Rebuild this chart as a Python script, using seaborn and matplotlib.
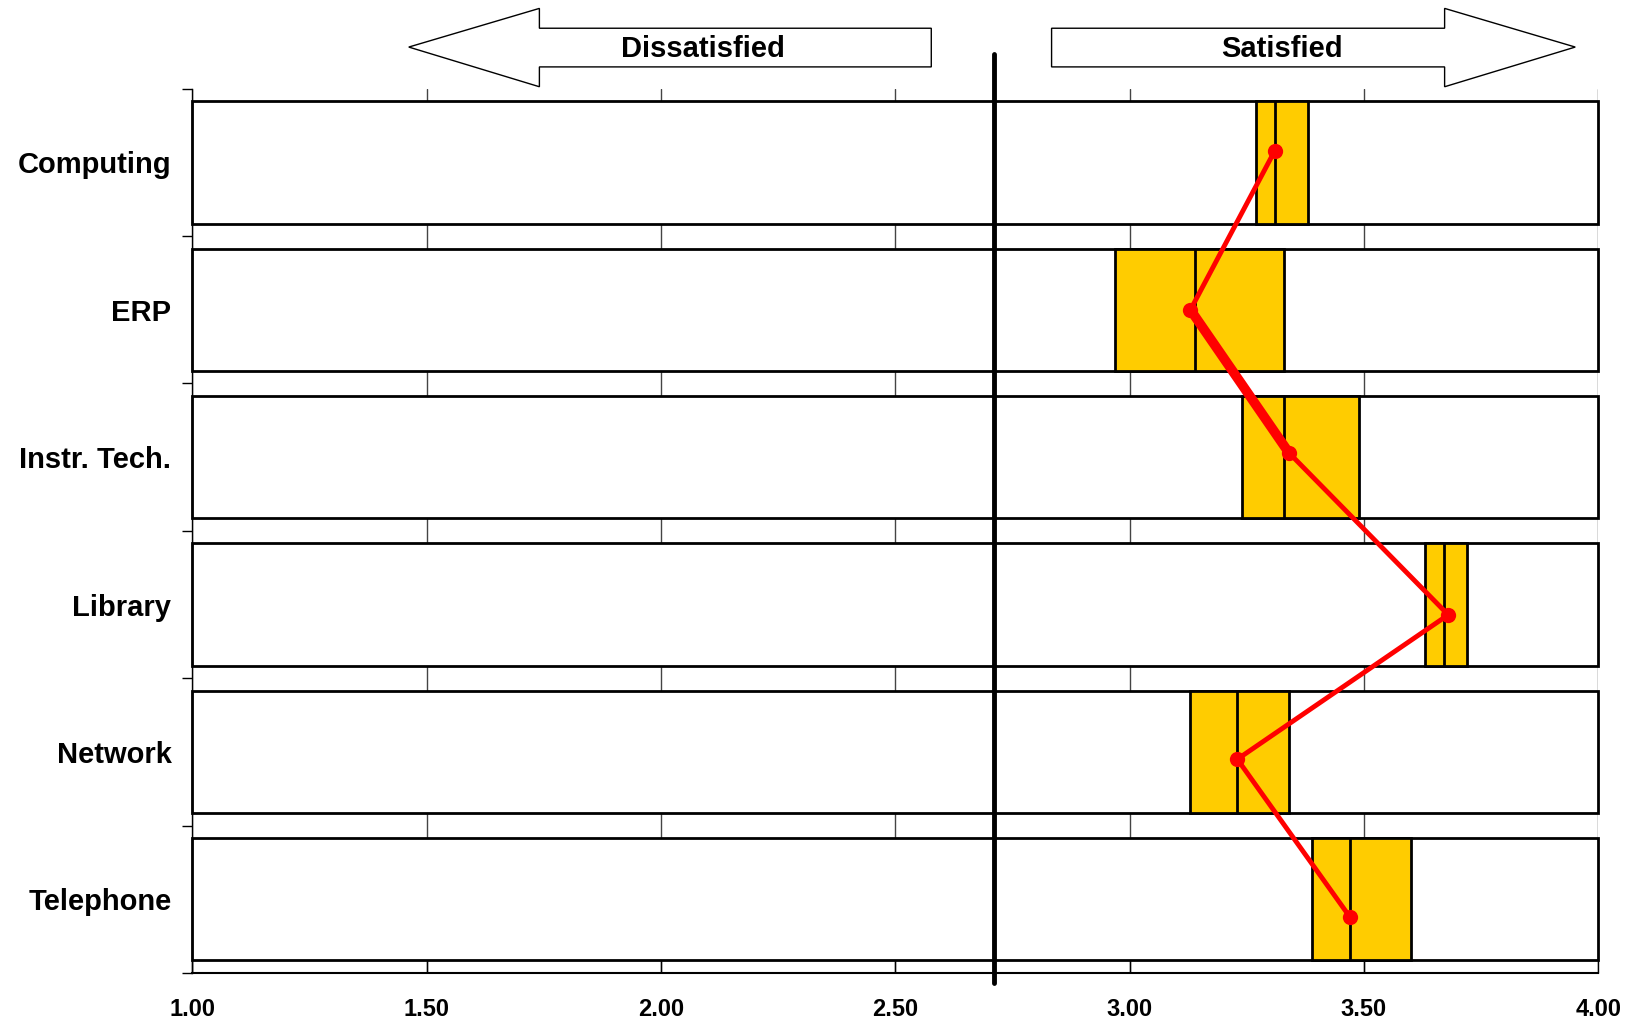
import matplotlib
matplotlib.use("Agg")
import matplotlib.pyplot as plt
from matplotlib.patches import Polygon
import seaborn as sns
import pandas as pd

# Values (satisfaction scale 1-4)
categories = ["Computing", "ERP", "Instr. Tech.", "Library", "Network", "Telephone"]
low_values = [3.27, 2.97, 3.24, 3.63, 3.13, 3.39]
median_values = [3.31, 3.14, 3.33, 3.67, 3.23, 3.47]
high_values = [3.38, 3.33, 3.49, 3.72, 3.34, 3.60]
mean_values = [3.31, 3.13, 3.34, 3.68, 3.23, 3.47]
# the mean markers sit slightly off the row centres in the original
mean_rows = [-0.08, 1.00, 1.97, 3.07, 4.05, 5.12]
scale_min = 1.0
scale_max = 4.0
neutral_point = 2.71
x_ticks = [1.0, 1.5, 2.0, 2.5, 3.0, 3.5, 4.0]

sns.set_theme(style="white")
plt.rcParams["font.family"] = ["Liberation Sans", "DejaVu Sans"]
plt.rcParams["text.color"] = "black"
plt.rcParams["xtick.color"] = "black"
plt.rcParams["ytick.color"] = "black"

fig = plt.figure(figsize=(16.39, 10.23), dpi=100)
ax = fig.add_axes([0.1173, 0.049, 0.8578, 0.8642])

df = pd.DataFrame({"category": categories, "full": [scale_max] * len(categories)})
bar_h = 0.83

# white background bars spanning the whole scale
sns.barplot(data=df, x="full", y="category", orient="h", color="white",
            edgecolor="black", linewidth=2, width=bar_h, ax=ax, zorder=2)
for p in ax.patches:
    p.set_x(scale_min)
    p.set_width(scale_max - scale_min)
    p.set_clip_on(False)

pos = list(range(len(categories)))
widths = [h - l for h, l in zip(high_values, low_values)]
ax.barh(pos, widths, left=low_values, height=bar_h, color="#FFCC00",
        edgecolor="black", linewidth=2, zorder=3)
ax.vlines(median_values, [p - bar_h / 2 for p in pos], [p + bar_h / 2 for p in pos],
          color="black", linewidth=2, zorder=3)

# neutral line
ax.axvline(neutral_point, ymin=-0.011, ymax=1.039, color="black", linewidth=3.5,
           clip_on=False, zorder=4)

# mean line
sns.lineplot(x=mean_values, y=mean_rows, sort=False, estimator=None, color="#FF0000",
             linewidth=3.5, marker="o", markersize=11, markeredgewidth=0, ax=ax, zorder=5)
ax.plot(mean_values[1:3], mean_rows[1:3], color="#FF0000", linewidth=7,
        solid_capstyle="round", zorder=5)

ax.set_xlim(scale_min, scale_max)
ax.set_ylim(len(categories) - 0.5, -0.5)
ax.set_xticks(x_ticks)
ax.set_xticklabels([f"{t:.2f}" for t in x_ticks], fontsize=17, fontweight="bold", color="black")
ax.tick_params(axis="x", direction="in", length=10, width=1, color="black", pad=18, bottom=True)
ax.set_yticks(pos)
ax.set_yticklabels(categories, fontsize=21, fontweight="bold", color="black")
ax.set_yticks([p - 0.5 for p in pos] + [len(categories) - 0.5], minor=True)
ax.tick_params(axis="y", which="major", length=0, pad=15)
ax.tick_params(axis="y", which="minor", length=7, width=1, color="black", left=True, direction="out")
ax.set_xlabel("")
ax.set_ylabel("")
ax.grid(axis="x", color="#444444", linewidth=1)
ax.grid(axis="y", visible=False)
ax.set_axisbelow(True)
for side in ["top", "right"]:
    ax.spines[side].set_visible(False)
ax.spines["left"].set_color("black")
ax.spines["left"].set_linewidth(1)
ax.spines["bottom"].set_color("black")
ax.spines["bottom"].set_linewidth(1.5)

# arrows on top
y_mid, y_top, y_bot, y_htop, y_hbot = 0.954, 0.9724, 0.9346, 0.9918, 0.9152
left_arrow = [(0.2494, y_mid), (0.3291, y_htop), (0.3291, y_top), (0.5682, y_top),
              (0.5682, y_bot), (0.3291, y_bot), (0.3291, y_hbot)]
right_arrow = [(0.9611, y_mid), (0.8814, y_htop), (0.8814, y_top), (0.6416, y_top),
               (0.6416, y_bot), (0.8814, y_bot), (0.8814, y_hbot)]
for pts in (left_arrow, right_arrow):
    fig.patches.append(Polygon(pts, closed=True, facecolor="white", edgecolor="black",
                               linewidth=1, transform=fig.transFigure))
fig.text(0.4286, 0.952, "Dissatisfied", ha="center", va="center", fontsize=21, fontweight="bold")
fig.text(0.7819, 0.952, "Satisfied", ha="center", va="center", fontsize=21, fontweight="bold")

fig.savefig("out.png", dpi=100)
